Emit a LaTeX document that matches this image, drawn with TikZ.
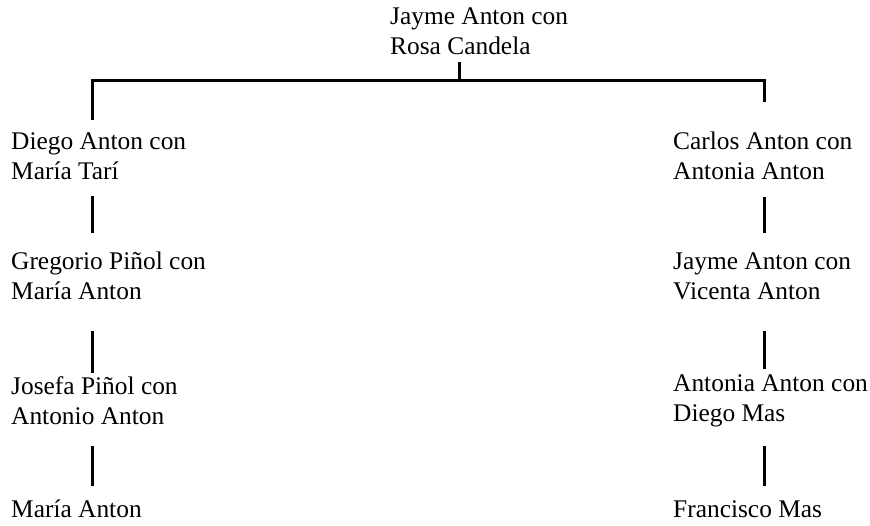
\documentclass[tikz,border=0pt]{standalone}
\usepackage{fontspec}
\setmainfont{Liberation Serif}
\usetikzlibrary{calc}
\begin{document}
\begin{tikzpicture}[x=1pt,y=1pt,
  couple/.style={anchor=base west, inner sep=0pt, align=left,
    font=\fontsize{25.4}{30}\selectfont},
  conn/.style={draw=black, line width=3pt}]
\useasboundingbox (0,0) rectangle (870,525);

% column axes for the descent lines
\coordinate (lx) at (92,0);
\coordinate (rx) at (764,0);
\coordinate (mx) at (459,0);
\coordinate (bar) at (0,444);

% couples (base west at the baseline of the last line)
\node[couple] (root) at (390,470) {\strut Jayme Anton con\\\strut Rosa Candela};

\node[couple] (l1) at (11,345) {\strut Diego Anton con\\\strut María Tarí};
\node[couple] (l2) at (11,225) {\strut Gregorio Piñol con\\\strut María Anton};
\node[couple] (l3) at (11,100) {\strut Josefa Piñol con\\\strut Antonio Anton};
\node[couple] (l4) at (11,8)   {\strut María Anton};

\node[couple] (r1) at (673,345) {\strut Carlos Anton con\\\strut Antonia Anton};
\node[couple] (r2) at (673,225) {\strut Jayme Anton con\\\strut Vicenta Anton};
\node[couple] (r3) at (673,103) {\strut Antonia Anton con\\\strut Diego Mas};
\node[couple] (r4) at (673,8)   {\strut Francisco Mas};

% bracket joining the root to both branches
\draw[conn] ($(root.south -| mx)+(0,2)$) -- (mx |- bar);
\draw[conn] ($(l1.north -| lx)+(0,9)$) -- (lx |- bar) -- (rx |- bar)
            -- ($(r1.north -| rx)+(0,27)$);

% left line of descent
\draw[conn] ($(l1.south -| lx)+(0,-7)$) -- ($(l2.north -| lx)+(0,16)$);
\draw[conn] ($(l2.south -| lx)+(0,-22)$) -- ($(l3.north -| lx)+(0,1)$);
\draw[conn] ($(l3.south -| lx)+(0,-12)$) -- ($(l4.north -| lx)+(0,10)$);

% right line of descent
\draw[conn] ($(r1.south -| rx)+(0,-8)$) -- ($(r2.north -| rx)+(0,16)$);
\draw[conn] ($(r2.south -| rx)+(0,-22)$) -- ($(r3.north -| rx)+(0,2)$);
\draw[conn] ($(r3.south -| rx)+(0,-15)$) -- ($(r4.north -| rx)+(0,10)$);
\end{tikzpicture}
\end{document}
